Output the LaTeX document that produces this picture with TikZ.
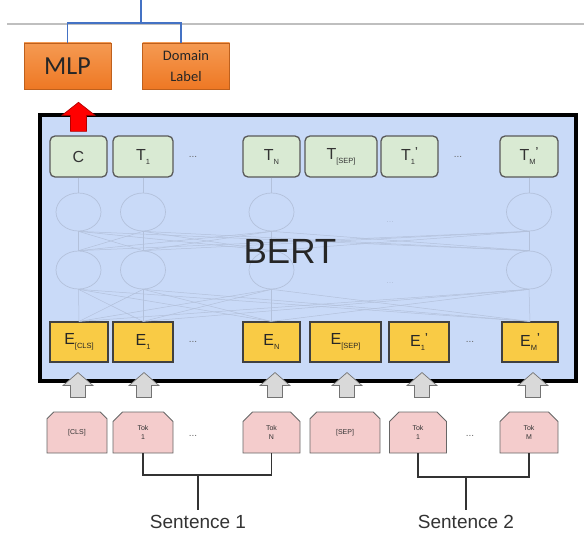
\documentclass[tikz,border=0pt]{standalone}
\usepackage{fontspec}
\setmainfont{Liberation Sans}
\newfontfamily\calib{Carlito}
\usetikzlibrary{shapes.misc,shapes.geometric,calc}
\definecolor{bertbg}{HTML}{C9DAF8}
\definecolor{tgreen}{HTML}{D9EAD3}
\definecolor{eyel}{HTML}{F9CB45}
\definecolor{tokpink}{HTML}{F4CCCC}
\definecolor{orangetop}{HTML}{F59A52}
\definecolor{orangebot}{HTML}{EE7824}
\definecolor{blueln}{HTML}{4472C4}
\definecolor{ghost}{HTML}{B3C1DB}
\newcommand\lbl[2]{#1\raisebox{-4pt}{\fontsize{7.5}{7.5}\selectfont #2}}
\newcommand\lblp[2]{#1\raisebox{-4pt}{\fontsize{7.5}{7.5}\selectfont #2}\raisebox{6pt}{\fontsize{10}{10}\selectfont\bfseries '}}
\begin{document}
\begin{tikzpicture}[x=1pt,y=-1pt,
  tbox/.style={draw=black!65, line width=1.3pt, fill=tgreen, rounded corners=5pt, minimum height=41pt, inner sep=0pt, font=\fontsize{16}{16}\selectfont, text=black!80},
  ebox/.style={draw=black!75, line width=1.1pt, fill=eyel, minimum height=40pt, inner sep=0pt, font=\fontsize{16}{16}\selectfont, text=black!85},
  tokbox/.style={chamfered rectangle, chamfered rectangle corners={north west,north east}, chamfered rectangle xsep=6pt, draw=black!60, line width=.8pt, fill=tokpink, minimum height=41pt, inner sep=0pt, font=\fontsize{7}{9}\selectfont, align=center, text=black!80},
  orbox/.style={draw=orangebot!80!black, line width=.6pt, top color=orangetop, bottom color=orangebot, minimum width=87pt, minimum height=46pt, inner sep=0pt, text=black!85, align=center},
  blueline/.style={draw=blueln, line width=1.6pt},
  dotslbl/.style={text=black!60, font=\fontsize{10}{10}\selectfont},
  ghostc/.style={ellipse, draw=ghost, line width=.7pt, minimum width=45pt, minimum height=38pt},
  ghostl/.style={draw=ghost, line width=.5pt},
  garrow/.style={fill=black!15, draw=black!55, line width=.7pt},
  rarrow/.style={fill=red, draw=red!70!black, line width=.7pt},
  stext/.style={font=\fontsize{19}{19}\selectfont, text=black!80}]
\useasboundingbox (0,0) rectangle (584,535);

% top line and bracket
\coordinate (gl) at (7,24);
\coordinate (gr) at (584,24);
\draw[black!25, line width=1.6pt] (gl) -- (gr);
\node[orbox, font=\calib\fontsize{26}{26}\selectfont] (mlp) at (67.5,66) {MLP};
\node[orbox, font=\calib\fontsize{14.5}{21}\selectfont] (dom) at (186,66) {Domain\\Label};
\coordinate (top) at (141,0);
\coordinate (bj) at (141,23);
\draw[blueline] (top) -- (bj);
\draw[blueline] (mlp.north) |- (bj) -| ([xshift=-5pt]dom.north);

% BERT box
\draw[fill=bertbg, line width=3.5pt] (40,115) rectangle (576,381);

% T row
\node[tbox, minimum width=57pt] (tc) at (78.5,156.5) {C};
\node[tbox, minimum width=60pt] (t1) at (143,156.5) {\lbl{T}{1}};
\node[tbox, minimum width=57pt] (tn) at (271.5,156.5) {\lbl{T}{N}};
\node[tbox, minimum width=72pt] (tsep) at (341,156.5) {\lbl{T}{[SEP]}};
\node[tbox, minimum width=57pt] (t1b) at (409.5,156.5) {\lblp{T}{1}};
\node[tbox, minimum width=58pt] (tmb) at (529,156.5) {\lblp{T}{M}};
\node[dotslbl] (td1) at (193,157) {...};
\node[dotslbl] (td2) at (458,157) {...};

% E row
\node[ebox, minimum width=58pt] (ecls) at (79,342) {\lbl{E}{[CLS]}};
\node[ebox, minimum width=60pt] (e1) at (143,342) {\lbl{E}{1}};
\node[ebox, minimum width=57pt] (en) at (271.5,342) {\lbl{E}{N}};
\node[ebox, minimum width=71pt] (esep) at (345.5,342) {\lbl{E}{[SEP]}};
\node[ebox, minimum width=60pt] (e1b) at (419,342) {\lblp{E}{1}};
\node[ebox, minimum width=56pt] (emb) at (530,342) {\lblp{E}{M}};
\node[dotslbl] (ed1) at (193,342) {...};
\node[dotslbl] (ed2) at (470,342) {...};

% ghost network
\foreach \i/\x in {1/78.5,2/143,3/271.5,4/529}{
  \node[ghostc] (c\i) at (\x,212) {};
  \node[ghostc] (d\i) at (\x,270) {};
}
\foreach \i/\t in {1/tc,2/t1,3/tn,4/tmb}{
  \draw[ghostl] (\t.south) -- (c\i.north);
  \foreach \j in {1,2,3,4}{
    \draw[ghostl] (c\i.south) -- (d\j.north);
  }
}
\foreach \i in {1,2,3,4}{
  \foreach \e in {ecls,e1,en,emb}{
    \draw[ghostl] (d\i.south) -- (\e.north);
  }
}
\node[text=ghost, font=\fontsize{9}{9}\selectfont] (gd1) at (390,222) {...};
\node[text=ghost, font=\fontsize{9}{9}\selectfont] (gd2) at (390,283) {...};
\node[font=\fontsize{35}{35}\selectfont, text=black!85] (bert) at (290,251) {BERT};

% red arrow
\filldraw[rarrow] ($(tc.north)+(-8,-4)$) -- ($(tc.north)+(-8,-20)$) -- ($(tc.north)+(-16.5,-20)$) -- ($(tc.north)+(0,-33)$) -- ($(tc.north)+(16.5,-20)$) -- ($(tc.north)+(8,-20)$) -- ($(tc.north)+(8,-4)$) -- cycle;

% gray arrows
\foreach \n/\dx in {ecls/-1,e1/1,en/3.5,esep/1.5,e1b/3,emb/3}{
  \filldraw[garrow] ($(\n.south)+(\dx-7.5,35)$) -- ($(\n.south)+(\dx-7.5,23)$) -- ($(\n.south)+(\dx-15,23)$) -- ($(\n.south)+(\dx,10)$) -- ($(\n.south)+(\dx+15,23)$) -- ($(\n.south)+(\dx+7.5,23)$) -- ($(\n.south)+(\dx+7.5,35)$) -- cycle;
}

% token row
\node[tokbox, minimum width=60pt] (kcls) at (77,432.5) {[CLS]};
\node[tokbox, minimum width=60pt] (k1) at (143,432.5) {Tok\\1};
\node[tokbox, minimum width=57pt] (kn) at (271.5,432.5) {Tok\\N};
\node[tokbox, minimum width=70pt] (ksep) at (345,432.5) {[SEP]};
\node[tokbox, minimum width=57pt] (k1b) at (418,432.5) {Tok\\1};
\node[tokbox, minimum width=58pt] (kmb) at (529,432.5) {Tok\\M};
\node[dotslbl] (kd1) at (193,436) {...};
\node[dotslbl] (kd2) at (470,436) {...};

% sentence brackets
\node[stext] (s1) at (198,522) {Sentence 1};
\node[stext] (s2) at (466,522) {Sentence 2};
\coordinate (j1) at (198,475);
\coordinate (j2) at (466,477);
\draw[black!80, line width=1.2pt] (k1.south) |- (j1) -| (kn.south);
\draw[black!80, line width=1.2pt] (j1) -- ([yshift=2pt]s1.north);
\draw[black!80, line width=1.2pt] (k1b.south) |- (j2) -| (kmb.south);
\draw[black!80, line width=1.2pt] (j2) -- ([yshift=2pt]s2.north);
\end{tikzpicture}
\end{document}
